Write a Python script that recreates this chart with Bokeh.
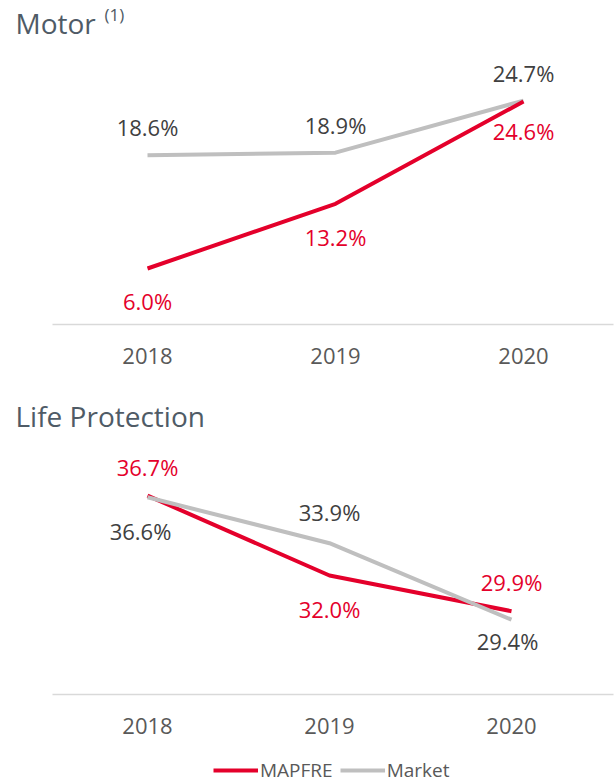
from bokeh.plotting import figure
from bokeh.models import Range1d, FixedTicker, Legend, LegendItem, Label, ColumnDataSource
from bokeh.layouts import column
from bokeh.embed import file_html
from bokeh.resources import INLINE
from bokeh.core.properties import value

years = [2018, 2019, 2020]
tick_labels = {2018: "2018", 2019: "2019", 2020: "2020"}

motor_mapfre = [6.0, 13.2, 24.6]
motor_market = [18.6, 18.9, 24.7]
life_mapfre = [36.7, 32.0, 29.9]
life_market = [36.6, 33.9, 29.4]
series_names = ["MAPFRE", "Market"]

# label offsets in screen px (positive = down)
motor_mapfre_off = [32, 33, 30]
motor_market_off = [-28, -28, -28]
life_mapfre_off = [-29, 33, -29]
life_market_off = [34, -31, 21]
life_market_xoff = [-7, 0, -4]

RED = "#E4002B"
GRAY_LINE = "#BFBFBF"
TXT = "#404040"
TICK = "#595959"
TITLE_C = "#4F5B66"
FONT = "Open Sans"

FW = 613  # frame width (px)


def make_fig(x0, x1, axis_start, y0, y1, fh, mbb):
    p = figure(frame_width=FW, frame_height=fh, output_backend="svg",
               toolbar_location=None, x_range=Range1d(x0, x1), y_range=Range1d(y0, y1),
               min_border_left=0, min_border_right=2, min_border_top=0,
               min_border_bottom=mbb)
    p.title.visible = False
    p.outline_line_color = None
    p.grid.visible = False
    p.yaxis.visible = False
    ax = p.xaxis[0]
    ax.bounds = (axis_start, x1)
    ax.ticker = FixedTicker(ticks=years)
    ax.major_label_overrides = tick_labels
    ax.major_tick_line_color = None
    ax.minor_tick_line_color = None
    ax.axis_line_color = "#D9D9D9"
    ax.axis_line_width = 1.5
    ax.major_label_text_font = FONT
    ax.major_label_text_font_size = "22px"
    ax.major_label_text_color = TICK
    ax.major_label_standoff = 17
    p.background_fill_color = None
    p.border_fill_color = None
    return p


def add_labels(p, ys, offs, color, xoffs=None):
    src = ColumnDataSource(dict(x=years, y=ys, t=["%.1f%%" % v for v in ys],
                                yo=offs, xo=xoffs if xoffs else [0, 0, 0]))
    p.text(x="x", y="y", text="t", source=src, y_offset="yo", x_offset="xo",
           text_align="center", text_baseline="middle",
           text_font=value(FONT), text_font_size="22px", text_color=color)


def title_label(p, text, px_x, px_mid, size, ppx, ppy, fb):
    # convert frame pixel position to data units
    x = 2018 + (px_x - 147) / ppx
    y = p.y_range.start + (fb - px_mid) / ppy
    p.add_layout(Label(x=x, y=y, text=text, text_align="left", text_baseline="middle",
                       text_font=FONT, text_font_size=size, text_color=TITLE_C))


# Motor: frame 0..613 x, 0..324 y ; 2018 at x=147, 188 px/yr ; 8.98 px/unit
m_ppx, m_ppy, m_fh = 188.0, 8.98, 324
m_y0 = -0.236
p1 = make_fig(2018 - 147 / m_ppx, 2018 + (FW - 147) / m_ppx, 2018 - 95 / m_ppx,
              m_y0, m_y0 + m_fh / m_ppy, m_fh, 68)
m1 = p1.line(years, motor_market, line_color=GRAY_LINE, line_width=4)
r1 = p1.line(years, motor_mapfre, line_color=RED, line_width=4)
add_labels(p1, motor_market, motor_market_off, TXT)
add_labels(p1, motor_mapfre, motor_mapfre_off, RED)
title_label(p1, "Motor", 15, 22, "28px", m_ppx, m_ppy, m_fh)
title_label(p1, "(1)", 104, 14, "17px", m_ppx, m_ppy, m_fh)

# Life Protection: frame 0..613 x, 392..694 y ; 182 px/yr ; 17 px/unit
l_ppx, l_ppy, l_fh = 182.0, 17.0, 302
p2 = make_fig(2018 - 147 / l_ppx, 2018 + (FW - 147) / l_ppx, 2018 - 95 / l_ppx,
              25.0, 25.0 + l_fh / l_ppy, l_fh, 60)
m2 = p2.line(years, life_market, line_color=GRAY_LINE, line_width=4)
r2 = p2.line(years, life_mapfre, line_color=RED, line_width=4)
p2.renderers = [r2, m2] + [r for r in p2.renderers if r not in (r2, m2)]
add_labels(p2, life_market, life_market_off, TXT, life_market_xoff)
add_labels(p2, life_mapfre, life_mapfre_off, RED)
title_label(p2, "Life Protection", 15, 415 - 392, "28px", l_ppx, l_ppy, l_fh)

# Legend strip (series drawn outside the visible range; only legend shows)
p3 = figure(frame_width=615, frame_height=30, output_backend="svg", toolbar_location=None,
            x_range=Range1d(0, 1), y_range=Range1d(1000, 1001),
            min_border_left=0, min_border_right=0, min_border_top=0, min_border_bottom=0)
p3.axis.visible = False
p3.grid.visible = False
p3.outline_line_color = None
p3.title.visible = False
lr = p3.line(x=years, y=life_mapfre, line_color=RED, line_width=4)
lm = p3.line(x=years, y=life_market, line_color=GRAY_LINE, line_width=4)
legend = Legend(items=[LegendItem(label=series_names[0], renderers=[lr]),
                       LegendItem(label=series_names[1], renderers=[lm])],
                orientation="horizontal", location=(213, 1),
                glyph_width=45, glyph_height=20, label_height=20,
                label_standoff=2, spacing=7,
                padding=0, margin=0, border_line_alpha=0, background_fill_alpha=0,
                label_text_font=FONT, label_text_font_size="19px",
                label_text_color=TICK)
p3.add_layout(legend, "center")

layout = column(p1, p2, p3, spacing=0)
open("out.html", "w").write(file_html(layout, INLINE))
